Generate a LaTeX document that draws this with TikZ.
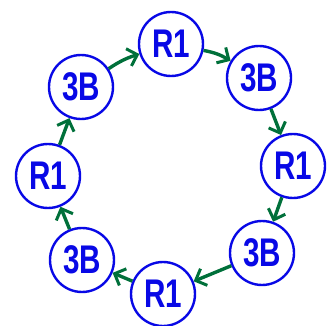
\documentclass[tikz,border=0pt]{standalone}
\usepackage{fontspec}
\setmainfont{Liberation Sans}
\usepackage{tikz}
\usetikzlibrary{
    arrows.meta,
    positioning
}
\definecolor{Cring}{RGB}{8, 8, 230}
\definecolor{Carrow}{RGB}{0, 112, 58}
\newcommand{\handtext}[1]{\scalebox{0.74}[1]{#1}}
\tikzset{
    cring/.style={
        circle, draw=Cring, line width=2.4pt, fill=white, text=Cring,
        minimum size=64pt, inner sep=0pt,
        font=\fontsize{40}{40}\selectfont\bfseries
    },
    carr/.style={-{Straight Barb[length=9pt, width=18pt, line width=3pt]}, line width=3.4pt, Carrow},
}
\begin{document}
\begin{tikzpicture}[x=1pt, y=-1pt]
    \useasboundingbox (0,0) rectangle (327,326);

    % ── ring nodes ───────────────────────────────────────
    \node [cring] (rtop)   at (171, 44)  {\handtext{R1}};
    \node [cring] (bne)    at (259, 78)  {\handtext{3B}};
    \node [cring] (rright) at (293, 166) {\handtext{R1}};
    \node [cring] (bse)    at (262, 253) {\handtext{3B}};
    \node [cring] (rbot)   at (163, 294) {\handtext{R1}};
    \node [cring] (bsw)    at (82, 260)  {\handtext{3B}};
    \node [cring] (rleft)  at (48, 176)  {\handtext{R1}};
    \node [cring] (bnw)    at (81, 87)   {\handtext{3B}};

    % ── arrows ───────────────────────────────────────────
    \draw [carr] (bnw) to[bend left=8] (rtop);
    \draw [carr] (rtop) to[bend left=10] (bne);
    \draw [carr] (bne) -- (rright);
    \draw [carr] (rright) -- (bse);
    \draw [carr] (bse) -- (rbot);
    \draw [carr] (rbot) -- (bsw);
    \draw [carr] (bsw) -- (rleft);
    \draw [carr] (rleft) -- (bnw);

\end{tikzpicture}
\end{document}
